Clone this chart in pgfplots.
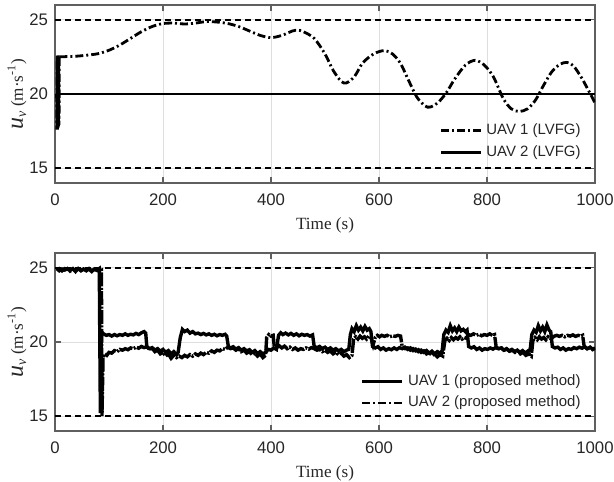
\documentclass[border=0pt]{standalone}
\usepackage{pgfplots}
\pgfplotsset{compat=1.18}
\usepackage{fontspec}
\setmainfont{Liberation Sans}
\newfontfamily\timesfont{Liberation Serif}
\definecolor{axgray}{RGB}{95,95,95}
\definecolor{gridgray}{RGB}{222,222,222}
\definecolor{ticktext}{RGB}{38,38,38}
\pgfplotsset{
 myax/.style={
  scale only axis, width=270bp, height=89bp,
  xmin=0, xmax=1000, ymin=14, ymax=26,
  xtick={0,200,400,600,800,1000}, ytick={15,20,25},
  grid=major, major grid style={gridgray, line width=0.5bp},
  axis line style={axgray, line width=0.6bp},
  tick style={axgray, line width=0.6bp}, major tick length=3bp,
  tick label style={font=\fontsize{8.4}{10}\selectfont, text=ticktext},
  xticklabel style={yshift=-2bp},
  /pgf/number format/assume math mode=true,
  /pgf/number format/1000 sep={},
  xlabel={\timesfont\fontsize{8.6}{10}\selectfont Time (s)},
  xlabel style={text=ticktext, yshift=1bp},
  ylabel={\timesfont\fontsize{8.6}{10}\selectfont{\fontsize{12}{12}\selectfont\itshape u}\raisebox{-0.4ex}{\fontsize{7}{8}\selectfont\itshape v}\ (m·s\textsuperscript{-1})},
  ylabel style={at={(axis description cs:-0.0704,0.5)}, anchor=center, text=ticktext},
  legend style={draw=none, fill=none, font=\fontsize{7.5}{9}\selectfont, anchor=north east, inner sep=1bp, text=ticktext},
  legend cell align=left,
  legend image code/.code={\draw[##1] (0bp,0bp) -- (20bp,0bp);},
 },
 bound/.style={black, line width=0.9bp, dash pattern=on 3bp off 2bp, forget plot},
 dd/.style={black, line width=1.4bp, dash pattern=on 4bp off 1.5bp on 1bp off 1.5bp},
}
\begin{document}
\begin{tikzpicture}
\useasboundingbox (-27.5bp,-25.5bp) rectangle (279.5bp,215.5bp);
% ---------------- top axis ----------------
\begin{axis}[myax, at={(0bp,124bp)}, anchor=south west,
  legend style={at={(0.985,0.37)}}]
\addplot[bound] coordinates {(0,25) (1000,25)};
\addplot[bound] coordinates {(0,15) (1000,15)};
\addplot[dd, forget plot] coordinates {(3,20) (3.5,17.6) (4,22.6) (4.5,17.6) (5,22.6) (5.5,17.7) (6,22.6) (6.5,17.8) (7,22.5) (7.5,17.9) (8,22.5)};
\addplot[dd, smooth, tension=0.5] coordinates {
(8,22.5) (20,22.52) (40,22.55) (60,22.62) (80,22.72) (100,22.95) (120,23.3) (140,23.75) (160,24.2) (180,24.55) (200,24.75) (220,24.78) (240,24.72) (260,24.78) (280,24.88) (300,24.85) (320,24.75) (340,24.55) (360,24.25) (380,23.95) (400,23.8) (420,23.95) (440,24.25) (450,24.3) (460,24.2) (480,23.75) (500,22.7) (515,21.6) (530,20.85) (540,20.75) (555,21.2) (570,22.1) (590,22.7) (610,22.93) (625,22.7) (640,22.05) (655,20.9) (670,19.8) (685,19.2) (695,19.12) (710,19.45) (725,20.1) (740,21.0) (760,21.95) (778,22.27) (795,21.95) (812,21.15) (830,19.7) (845,19.0) (860,18.82) (875,19.0) (890,19.6) (905,20.6) (920,21.5) (935,22.0) (948,22.13) (960,21.9) (975,21.1) (990,20.1) (1000,19.4)};
\addlegendentry{UAV 1 (LVFG)}
\addplot[black, line width=1.3bp] coordinates {(3,20) (1000,20)};
\addlegendentry{UAV 2 (LVFG)}
\end{axis}
% ---------------- bottom axis ----------------
\begin{axis}[myax, at={(0bp,0bp)}, anchor=south west,
  legend style={at={(0.985,0.354)}}]
\addplot[bound] coordinates {(0,25) (1000,25)};
\addplot[bound] coordinates {(0,15) (1000,15)};
\addplot[black, line width=1.7bp] coordinates {
(3,24.9) (8,24.95) (13,24.8) (18,24.95) (23,24.9) (28,24.85) (33,24.95) (38,24.75) (43,24.95) (48,24.85) (53,24.9) (58,24.8) (63,24.95) (68,24.8) (73,24.9) (78,24.85) (82,24.95) (84,15.2) (86,20.7)
(90,20.55) (95,20.45) (100,20.5) (105,20.4) (110,20.5) (115,20.42) (120,20.5) (125,20.45) (130,20.55) (135,20.45) (140,20.52) (145,20.48) (150,20.58) (155,20.5) (160,20.62) (165,20.7) (168,20.6)
(170,19.7) (175,19.55) (180,19.62) (185,19.45) (190,19.55) (195,19.38) (200,19.5) (205,19.3) (210,19.42) (215,19.2) (220,19.35) (225,19.15) (228,19.3)
(232,20.3) (236,20.85) (240,20.7) (245,20.8) (250,20.6) (255,20.7) (260,20.55) (265,20.6) (270,20.5) (275,20.58) (280,20.48) (285,20.55) (290,20.45) (295,20.52) (300,20.42) (305,20.5) (310,20.45) (315,20.52) (318,20.4)
(321,19.7) (325,19.6) (330,19.68) (335,19.52) (340,19.62) (345,19.45) (350,19.55) (355,19.4) (360,19.48) (365,19.3) (370,19.42) (375,19.22) (380,19.35) (385,19.2) (390,19.3) (395,19.5) (400,19.45) (405,19.6) (410,19.5)
(414,20.45) (418,20.62) (422,20.5) (427,20.6) (432,20.48) (437,20.58) (442,20.45) (447,20.55) (452,20.42) (457,20.52) (462,20.45) (467,20.5) (472,20.4) (477,20.48)
(480,19.7) (485,19.62) (490,19.7) (495,19.55) (500,19.65) (505,19.5) (510,19.6) (515,19.45) (520,19.55) (525,19.4) (530,19.5) (535,19.35) (540,19.45) (544,19.5)
(547,20.5) (550,20.9) (554,20.7) (558,21.1) (562,20.8) (566,21.0) (570,20.75) (574,21.05) (578,20.8) (582,20.9) (585,20.7)
(588,19.7) (593,19.6) (598,19.68) (603,19.5) (608,19.6) (613,19.45) (618,19.55) (623,19.48) (628,19.6) (633,19.5) (638,19.62) (643,19.55) (648,19.65) (653,19.5) (658,19.6) (663,19.42) (668,19.52) (673,19.35) (678,19.45) (683,19.3) (688,19.42) (693,19.25) (698,19.38) (703,19.2) (708,19.35) (713,19.25) (717,19.4)
(720,20.5) (724,20.8) (728,20.65) (732,21.1) (736,20.75) (740,20.95) (744,20.7) (748,21.0) (752,20.75) (756,20.85) (760,20.7) (763,20.8)
(766,19.7) (771,19.6) (776,19.68) (781,19.5) (786,19.6) (791,19.45) (796,19.55) (801,19.5) (806,19.6) (811,19.52) (816,19.62) (821,19.55) (826,19.6) (831,19.45) (836,19.55) (841,19.4) (846,19.5) (851,19.35) (856,19.45) (861,19.3) (866,19.42) (871,19.25) (876,19.4) (880,19.5)
(883,20.5) (887,20.8) (891,20.65) (895,21.1) (899,20.75) (903,21.0) (907,20.7) (911,21.15) (915,20.8) (918,20.7)
(921,19.7) (926,19.6) (931,19.65) (936,19.5) (941,19.6) (946,19.45) (951,19.55) (956,19.5) (961,19.62) (966,19.55) (971,19.65) (976,19.58) (981,19.68) (986,19.55) (991,19.65) (996,19.5) (1000,19.6)};
\addlegendentry{UAV 1 (proposed method)}
\addlegendimage{black, line width=1.4bp, dash pattern=on 4bp off 1.5bp on 1bp off 1.5bp}
\addlegendentry{UAV 2 (proposed method)}
\addplot[black, line width=1.7bp, dash pattern=on 7bp off 0.7bp on 1bp off 0.7bp, forget plot] coordinates {
(3,24.95) (8,24.8) (13,24.92) (18,24.85) (23,24.95) (28,24.78) (33,24.9) (38,24.85) (43,24.95) (48,24.8) (53,24.92) (58,24.85) (63,24.9) (68,24.75) (73,24.92) (78,24.82) (83,24.95) (86,24.9) (87,15.0)
(89,19.0) (92,19.2) (96,19.1) (100,19.3) (105,19.25) (110,19.42) (115,19.35) (120,19.5) (125,19.45) (130,19.55) (135,19.48) (140,19.6) (145,19.55) (150,19.65) (155,19.58) (160,19.7) (165,19.62) (170,19.68)
(175,19.5) (180,19.58) (185,19.35) (190,19.45) (195,19.2) (200,19.3) (205,19.05) (210,19.2) (215,18.9) (220,19.1) (225,18.95) (230,19.05) (235,18.95) (240,19.1) (245,19.0) (250,19.15) (255,19.05) (260,19.2) (265,19.1) (270,19.25) (275,19.15) (280,19.3) (285,19.25) (290,19.4) (295,19.3) (300,19.45) (305,19.4) (310,19.55) (315,19.5) (320,19.65)
(325,19.55) (330,19.6) (335,19.45) (340,19.55) (345,19.35) (350,19.45) (355,19.25) (360,19.35) (365,19.15) (370,19.25) (375,19.05) (380,19.2) (385,18.95) (390,19.1)
(392,20.3) (396,20.5) (400,20.4) (404,20.45) (406,19.7) (410,19.55) (415,19.75) (420,19.6) (425,19.72) (430,19.55) (435,19.65) (440,19.5) (445,19.6) (450,19.45) (455,19.55) (460,19.5) (465,19.6) (470,19.52) (475,19.62) (480,19.55)
(485,19.45) (490,19.5) (495,19.35) (500,19.45) (505,19.3) (510,19.4) (515,19.2) (520,19.32) (525,19.15) (530,19.25) (535,19.05) (540,19.15) (545,18.95) (550,19.1)
(553,20.2) (557,20.35) (561,20.2) (565,20.4) (569,20.25) (573,20.35) (577,20.2) (581,20.4) (585,20.3) (589,19.8) (593,20.3) (597,20.45) (601,20.35) (605,20.45) (610,20.38) (615,20.45) (620,20.35) (625,20.42) (630,20.38) (635,20.45) (640,20.4)
(643,19.65) (648,19.55) (653,19.6) (658,19.45) (663,19.55) (668,19.4) (673,19.48) (678,19.3) (683,19.4) (688,19.2) (693,19.3) (698,19.1) (703,19.2) (708,19.0) (713,19.15) (718,19.05)
(722,20.1) (726,20.25) (730,20.1) (734,20.3) (738,20.15) (742,20.3) (746,20.2) (750,20.35) (754,20.2) (758,20.3) (762,20.25) (766,20.5) (770,20.45) (775,20.55) (780,20.45) (785,20.52) (790,20.42) (795,20.5) (800,20.45) (805,20.55) (810,20.45) (814,20.5)
(817,19.65) (822,19.55) (827,19.6) (832,19.45) (837,19.52) (842,19.38) (847,19.45) (852,19.3) (857,19.4) (862,19.2) (867,19.3) (872,19.1) (877,19.2) (882,19.05)
(885,20.1) (889,20.3) (893,20.15) (897,20.35) (901,20.2) (905,20.3) (909,20.15) (913,20.35) (917,20.25) (921,20.3) (925,20.4) (929,20.45) (934,20.38) (939,20.45) (944,20.35) (949,20.45) (954,20.4) (959,20.48) (964,20.38) (969,20.45) (974,20.4) (977,20.45)
(980,19.7) (985,19.55) (990,19.62) (995,19.5) (1000,19.58)};
\end{axis}
\end{tikzpicture}
\end{document}
